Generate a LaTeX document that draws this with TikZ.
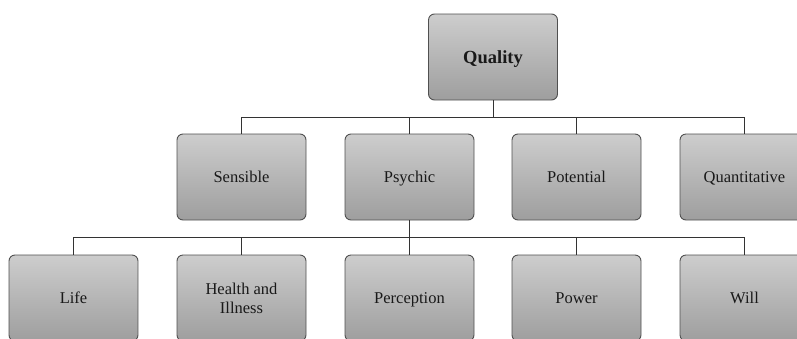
\documentclass[tikz,border=0pt]{standalone}
\usepackage{fontspec}
\setmainfont{Liberation Serif}
\definecolor{boxtop}{HTML}{CDCDCD}
\definecolor{boxbot}{HTML}{9E9E9E}
\definecolor{boxline}{HTML}{505050}
\tikzset{
  catbox/.style={draw=boxline, line width=0.9pt, rounded corners=6pt,
    top color=boxtop, bottom color=boxbot, minimum width=129pt,
    minimum height=86pt, align=center, inner sep=0pt, text=black!90,
    text height=11pt, text depth=0pt,
    font=\fontsize{16.5}{19}\selectfont},
  link/.style={draw=black!80, line width=1pt}
}
\begin{document}
\begin{tikzpicture}[x=1pt,y=-1pt]
  \useasboundingbox (0,0) rectangle (797,338);
  \clip (0,0) rectangle (797,338);
  % top of the tree
  \node[catbox, text height=13pt, font=\fontsize{18.5}{21}\selectfont\bfseries] (quality) at (493,57) {Quality};
  % second row
  \node[catbox] (sensible) at (241.5,177) {Sensible};
  \node[catbox] (psychic) at (409.5,177) {Psychic};
  \node[catbox] (potential) at (576.5,177) {Potential};
  \node[catbox] (quant) at (744.5,177) {Quantitative};
  % third row, children of Psychic
  \node[catbox] (life) at (73.5,298) {Life};
  \node[catbox, text height=30pt] (health) at (241.5,298) {Health and\\Illness};
  \node[catbox] (perception) at (409.5,298) {Perception};
  \node[catbox] (power) at (576.5,298) {Power};
  \node[catbox] (will) at (744.5,298) {Will};
  % elbow connectors
  \coordinate (busA) at (0,117);
  \coordinate (busB) at (0,237);
  \foreach \c in {sensible,psychic,potential,quant}
    \draw[link] (quality.south) |- (busA -| quality.south) -| (\c.north);
  \foreach \c in {life,health,perception,power,will}
    \draw[link] (psychic.south) |- (busB -| psychic.south) -| (\c.north);
\end{tikzpicture}
\end{document}
